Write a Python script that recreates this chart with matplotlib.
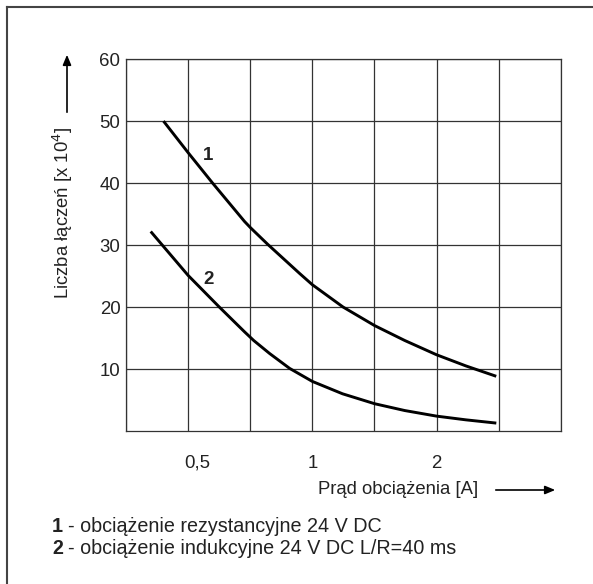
import numpy as np
import matplotlib
matplotlib.use('Agg')
import matplotlib.pyplot as plt
from matplotlib.lines import Line2D
from matplotlib.transforms import ScaledTranslation

plt.rcParams['font.family'] = ['Liberation Sans', 'DejaVu Sans']

# Dane (prąd w A, liczba łączeń x 10^4)
prad_1 = [0.438, 0.5, 0.573, 0.685, 0.708, 0.780, 0.932, 1.0, 1.187, 1.416,
          1.675, 2.0, 2.356, 2.77]
laczenia_1 = [49.8, 44.9, 40.0, 33.8, 32.8, 30.1, 25.4, 23.6, 20.0, 17.0,
              14.6, 12.3, 10.5, 8.9]

prad_2 = [0.408, 0.5, 0.595, 0.685, 0.721, 0.788, 0.881, 1.0, 1.184, 1.416,
          1.675, 2.0, 2.356, 2.77]
laczenia_2 = [32.0, 25.1, 20.0, 16.0, 14.6, 12.5, 10.1, 8.0, 6.0, 4.4,
              3.3, 2.4, 1.8, 1.3]

x_ticks = [0.5, 1, 2]
x_tick_labels = ['0,5', '1', '2']
y_ticks = [10, 20, 30, 40, 50, 60]
opisy = ['obciążenie rezystancyjne 24 V DC',
         'obciążenie indukcyjne 24 V DC L/R=40 ms']

W, H = 593, 584
fig = plt.figure(figsize=(W / 100, H / 100), dpi=100)


def fx(px):
    return px / W


def fy(py):
    return 1 - py / H


ax = fig.add_axes([fx(126), fy(431), fx(560.7) - fx(126), fy(59) - fy(431)])

kolor = '#222222'
ax.set_xscale('log', base=2)
ax.set_xlim(2 ** -1.5, 4)
ax.set_ylim(0, 60)

# siatka co pół oktawy
siatka_x = np.sqrt(2) ** np.arange(-3, 5)
for gx in siatka_x:
    ax.axvline(gx, color='#333333', lw=0.9, zorder=1)
for gy in y_ticks:
    ax.axhline(gy, color='#333333', lw=0.9, zorder=1)

ax.plot(prad_1, laczenia_1, color='black', lw=2.1, zorder=3,
        solid_joinstyle='round')
ax.plot(prad_2, laczenia_2, color='black', lw=2.1, zorder=3,
        solid_joinstyle='round')

ax.text(0.558, 44.4, '1', fontsize=13.5, fontweight='bold', ha='center',
        va='center', color=kolor)
ax.text(0.56, 24.5, '2', fontsize=13.5, fontweight='bold', ha='center',
        va='center', color=kolor)

ax.xaxis.set_minor_locator(matplotlib.ticker.NullLocator())
ax.set_xticks(x_ticks)
ax.set_xticklabels(x_tick_labels)
ax.set_yticks(y_ticks)
ax.tick_params(length=0, labelsize=13.4, colors=kolor)
ax.tick_params(axis='x', pad=17)
ax.tick_params(axis='y', pad=4)
for s in ax.spines.values():
    s.set_color('#333333')
    s.set_linewidth(0.9)

# etykieta "0,5" przesunięta lekko w prawo jak w oryginale
lab = ax.get_xticklabels()[0]
lab.set_transform(lab.get_transform() +
                  ScaledTranslation(9 / 100, 0, fig.dpi_scale_trans))

# opisy osi ze strzałkami
fig.text(fx(63), fy(213), 'Liczba łączeń [x 10$^4$]', rotation=90,
         ha='center', va='center', fontsize=13.3, color=kolor)
fig.add_artist(matplotlib.patches.FancyArrowPatch(
    (fx(67), fy(115)), (fx(67), fy(52)), transform=fig.transFigure,
    arrowstyle='-|>,head_length=6,head_width=2.5', color='black', lw=1.2))

fig.text(fx(318), fy(489), 'Prąd obciążenia [A]', ha='left', va='center',
         fontsize=13.3, color=kolor)
fig.add_artist(matplotlib.patches.FancyArrowPatch(
    (fx(493), fy(490)), (fx(558), fy(490)), transform=fig.transFigure,
    arrowstyle='-|>,head_length=6,head_width=2.5', color='black', lw=1.2))

# legenda
for i, (opis, py) in enumerate(zip(opisy, [527, 548])):
    fig.text(fx(52), fy(py), str(i + 1), ha='left', va='center',
             fontsize=14.2, fontweight='bold', color=kolor)
    fig.text(fx(68), fy(py), '- ' + opis, ha='left', va='center',
             fontsize=14.2, color=kolor)

# ramka (widoczne tylko lewa i górna krawędź)
fig.add_artist(Line2D([fx(7), fx(7)], [fy(7), 0], transform=fig.transFigure,
                      color='#444444', lw=1.5))
fig.add_artist(Line2D([fx(7), 1], [fy(7), fy(7)], transform=fig.transFigure,
                      color='#444444', lw=1.5))

fig.savefig('out.png', dpi=100)
